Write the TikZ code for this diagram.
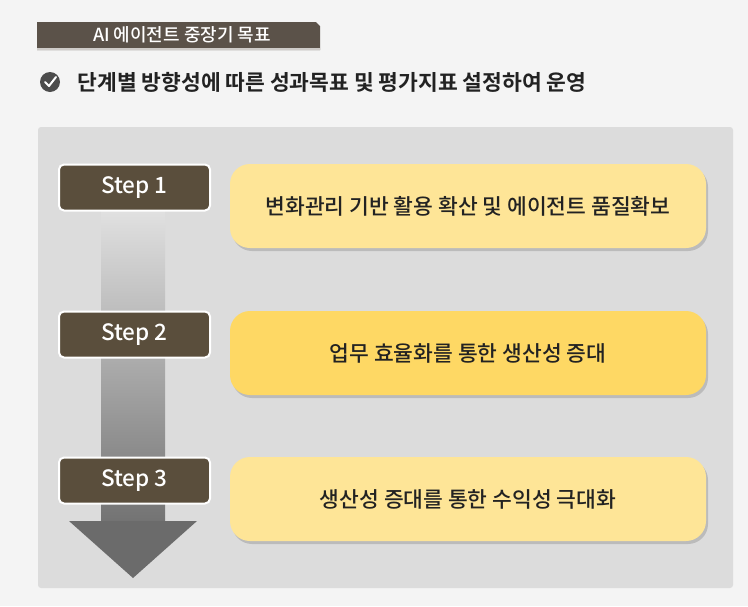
\documentclass[tikz,border=0pt]{standalone}
\usepackage{fontspec}
\setmainfont{Noto Sans CJK KR}
\newfontfamily\kb{Noto Sans CJK KR Bold}
\newfontfamily\km{Noto Sans CJK KR Medium}
\usetikzlibrary{shadows}
\definecolor{bg}{HTML}{F4F4F4}
\definecolor{panel}{HTML}{DCDCDC}
\definecolor{brown}{HTML}{5A4E3C}
\definecolor{tab}{HTML}{5B5249}
\definecolor{y1}{HTML}{FEE597}
\definecolor{y2}{HTML}{FED864}
\definecolor{txt}{HTML}{222222}
\tikzset{
 stepbox/.style={draw=white,line width=2pt,fill=brown,rounded corners=5pt,minimum width=151pt,minimum height=46pt,text=white,font=\km\fontsize{22.5}{24}\selectfont},
 goal/.style={rounded corners=20pt,minimum width=476pt,minimum height=84pt,text=txt,font=\km\fontsize{21.5}{24}\selectfont,drop shadow={shadow xshift=2pt,shadow yshift=-3pt,opacity=0.35}}
}
\begin{document}
\begin{tikzpicture}[x=1pt,y=-1pt]
\fill[bg] (0,0) rectangle (748,606);
\useasboundingbox (0,0) rectangle (748,606);
\fill[panel,rounded corners=3pt] (38,127) rectangle (733,588);
% title tab
\fill[tab] (37,22) -- (316,22) -- (320,26) -- (320,50) -- (37,50) -- cycle;
\draw[white!70!tab,line width=1.5pt] (37,49) -- (320,49);
\node[text=white,font=\km\fontsize{18}{20}\selectfont] (title) at (182,35) {AI 에이전트 중장기 목표};
% check
\fill[black!70] (50,82) circle (10pt);
\draw[white,line width=2pt,line cap=round,line join=round] (45,82) -- (49,86) -- (56,77);
\node[anchor=west,text=txt,font=\kb\fontsize{21.5}{24}\selectfont] (sub) at (74,82) {단계별 방향성에 따른 성과목표 및 평가지표 설정하여 운영};
% arrow
\shade[top color=black!12,bottom color=black!55] (101,211) rectangle (165,522);
\fill[black!58] (69,521) -- (197,521) -- (133,578) -- cycle;
% steps
\node[stepbox] (s1) at (134.5,187.5) {Step 1};
\node[stepbox] (s2) at (134.5,334.5) {Step 2};
\node[stepbox] (s3) at (134.5,480.5) {Step 3};
\node[goal,fill=y1] (g1) at (468,206) {변화관리 기반 활용 확산 및 에이전트 품질확보};
\node[goal,fill=y2] (g2) at (468,353) {업무 효율화를 통한 생산성 증대};
\node[goal,fill=y1] (g3) at (468,499) {생산성 증대를 통한 수익성 극대화};
\end{tikzpicture}
\end{document}
